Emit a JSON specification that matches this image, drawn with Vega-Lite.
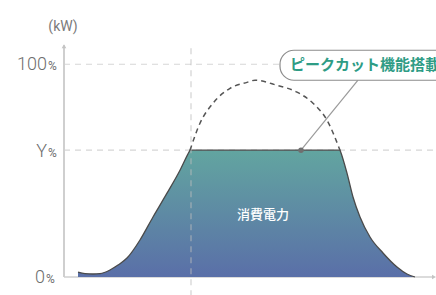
{
  "$schema": "https://vega.github.io/schema/vega-lite/v6.json",
  "width": 372,
  "height": 234,
  "autosize": {"type": "none"},
  "padding": {"left": 64, "top": 43, "right": 0, "bottom": 18},
  "background": "white",
  "config": {"view": {"stroke": null}},
  "datasets": {
    "power": [
      {"x": 14, "y": 2.3}, {"x": 21, "y": 1.6}, {"x": 29, "y": 1.4}, {"x": 36, "y": 1.6},
      {"x": 46, "y": 3.3}, {"x": 54, "y": 5.6}, {"x": 63, "y": 8.9}, {"x": 76, "y": 17.4},
      {"x": 89, "y": 28.2}, {"x": 103, "y": 39.4}, {"x": 116, "y": 50.2}, {"x": 125.5, "y": 59.2},
      {"x": 126, "y": 59.6}, {"x": 276, "y": 59.6}, {"x": 276.5, "y": 59.0},
      {"x": 283, "y": 48.8}, {"x": 289, "y": 37.6}, {"x": 296, "y": 28.2}, {"x": 306, "y": 18.8},
      {"x": 319, "y": 11.3}, {"x": 333, "y": 4.7}, {"x": 343, "y": 1.4}, {"x": 351, "y": 0}
    ],
    "peak": [
      {"x": 126, "y": 59.6}, {"x": 136, "y": 72.3}, {"x": 149, "y": 81.7}, {"x": 166, "y": 88.7},
      {"x": 183, "y": 91.5}, {"x": 191, "y": 92.5}, {"x": 213, "y": 90.1}, {"x": 233, "y": 86.9},
      {"x": 249, "y": 81.7}, {"x": 263, "y": 73.7}, {"x": 276, "y": 59.6}
    ],
    "ticks": [
      {"num": "100", "x": -17, "y": 97.2},
      {"num": "Y", "x": -17, "y": 56.3},
      {"num": "0", "x": -19, "y": -2.8}
    ]
  },
  "encoding": {
    "x": {"field": "x", "type": "quantitative", "scale": {"domain": [0, 372], "nice": false, "zero": false}, "axis": null},
    "y": {"field": "y", "type": "quantitative", "scale": {"domain": [0, 110], "nice": false, "zero": false}, "axis": null}
  },
  "layer": [
    {
      "data": {"values": [{"x": 0, "x2": 372, "y": 100}, {"x": 0, "x2": 372, "y": 59.6}]},
      "mark": {"type": "rule", "color": "#d6d6d6", "strokeWidth": 1.2, "strokeDash": [6, 5]},
      "encoding": {"x2": {"field": "x2"}}
    },
    {
      "data": {"values": [{"x": 0, "y": 0, "y2": 109}]},
      "mark": {"type": "rule", "color": "#cfcfcf", "strokeWidth": 2},
      "encoding": {"y2": {"field": "y2"}}
    },
    {
      "data": {"values": [{"x": 0, "y": 0, "x2": 370}]},
      "mark": {"type": "rule", "color": "#cfcfcf", "strokeWidth": 1.5},
      "encoding": {"x2": {"field": "x2"}}
    },
    {
      "data": {"values": [{"x": 0, "y": 108.5}]},
      "mark": {"type": "point", "shape": "triangle-up", "filled": true, "color": "#c4c4c4", "size": 22, "opacity": 1}
    },
    {
      "data": {"values": [{"x": 370, "y": 0}]},
      "mark": {"type": "point", "shape": "triangle-right", "filled": true, "color": "#c4c4c4", "size": 22, "opacity": 1}
    },
    {
      "data": {"name": "power"},
      "mark": {"type": "area", "interpolate": "monotone", "color": {"gradient": "linear", "x1": 0, "y1": 0, "x2": 0, "y2": 1, "stops": [{"offset": 0, "color": "#62a5a0"}, {"offset": 1, "color": "#5a6fa8"}]}}
    },
    {
      "data": {"name": "power"},
      "mark": {"type": "line", "interpolate": "monotone", "color": "#4a4a4a", "strokeWidth": 1.3}
    },
    {
      "data": {"values": [{"x": 127, "y": -9, "y2": 109}]},
      "mark": {"type": "rule", "color": "#bdbdbd", "opacity": 0.55, "strokeWidth": 1.5, "strokeDash": [6, 5]},
      "encoding": {"y2": {"field": "y2"}}
    },
    {
      "data": {"name": "peak"},
      "mark": {"type": "line", "interpolate": "monotone", "color": "#555555", "strokeWidth": 1.5, "strokeDash": [5, 4]}
    },
    {
      "data": {"values": [{"x": 237, "y": 59.6, "x2": 294, "y2": 92.5}]},
      "mark": {"type": "rule", "color": "#9a9a9a", "strokeWidth": 1.2},
      "encoding": {"x2": {"field": "x2"}, "y2": {"field": "y2"}}
    },
    {
      "data": {"values": [{"x": 237, "y": 59.6}]},
      "mark": {"type": "point", "filled": true, "color": "#6f6f6f", "size": 30, "opacity": 1}
    },
    {
      "data": {"values": [{"x": 216, "x2": 400, "y": 106.6, "y2": 92.5}]},
      "mark": {"type": "rect", "fill": "white", "stroke": "#8c8c8c", "strokeWidth": 1.2, "cornerRadius": 14},
      "encoding": {"x2": {"field": "x2"}, "y2": {"field": "y2"}}
    },
    {
      "data": {"values": [{"x": 226, "y": 99.6, "t": "ピークカット機能搭載"}]},
      "mark": {"type": "text", "align": "left", "baseline": "middle", "font": "Noto Sans CJK JP", "fontWeight": "bold", "fontSize": 15, "color": "#2e9c85"},
      "encoding": {"text": {"field": "t"}}
    },
    {
      "data": {"values": [{"x": 199, "y": 29.1, "t": "消費電力"}]},
      "mark": {"type": "text", "align": "center", "baseline": "middle", "font": "Noto Sans CJK JP", "fontWeight": 500, "fontSize": 13, "color": "white"},
      "encoding": {"text": {"field": "t"}}
    },
    {
      "data": {"values": [{"x": -1, "y": 117.4, "t": "(kW)"}]},
      "mark": {"type": "text", "align": "center", "baseline": "middle", "font": "Roboto", "fontWeight": 400, "fontSize": 14, "color": "#7a7a7a"},
      "encoding": {"text": {"field": "t"}}
    },
    {
      "data": {"name": "ticks"},
      "mark": {"type": "text", "align": "right", "baseline": "alphabetic", "font": "Roboto", "fontWeight": 300, "fontSize": 18, "color": "#6e6e6e"},
      "encoding": {"text": {"field": "num"}}
    },
    {
      "data": {"name": "ticks"},
      "mark": {"type": "text", "align": "left", "baseline": "alphabetic", "font": "Roboto", "fontWeight": 400, "fontSize": 12, "color": "#6e6e6e", "dx": 1},
      "encoding": {"text": {"value": "%"}}
    }
  ]
}
